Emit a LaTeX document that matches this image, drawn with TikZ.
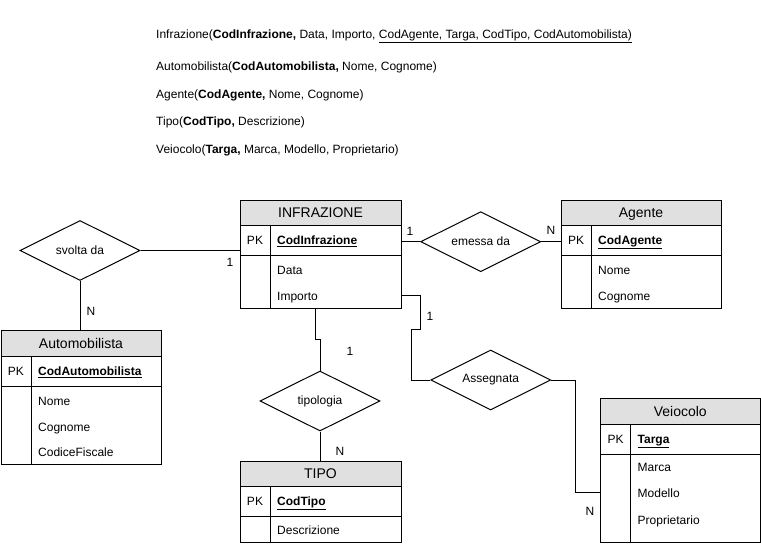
\documentclass[tikz,border=0pt]{standalone}
\usepackage{fontspec}
\setmainfont{Liberation Sans}
\usetikzlibrary{shapes.geometric,calc}

\definecolor{hdrgray}{HTML}{E0E0E0}

\tikzset{
  tabframe/.style={draw=black, line width=1pt, inner sep=0pt, outer sep=0pt, anchor=north west},
  tabtitle/.style={font=\fontsize{14}{16}\selectfont, inner sep=0pt, anchor=base, yshift=-5pt},
  field/.style={font=\fontsize{12}{14}\selectfont, anchor=base west, inner sep=0pt, yshift=-4.3pt},
  pklabel/.style={font=\fontsize{12}{14}\selectfont, inner sep=0pt, anchor=base, yshift=-4.3pt},
  relation/.style={diamond, draw=black, line width=1pt, inner sep=0pt, aspect=2,
    minimum width=120pt, minimum height=60pt, font=\fontsize{12}{14}\selectfont},
  link/.style={draw=black, line width=1pt},
  card/.style={font=\fontsize{12}{14}\selectfont, inner sep=0pt, anchor=base, yshift=-4.3pt},
  schema/.style={font=\fontsize{12}{14}\selectfont, anchor=base west, inner sep=0pt, yshift=-4.3pt},
}

% \ertable{name}{left}{top}{width}{height}{title}{key field}{header height}
\newcommand{\ertable}[8]{%
  \fill[hdrgray] (#2,#3) rectangle (#2+#4,#3+#8);
  \node[tabframe, minimum width=#4pt, minimum height=#5pt] (#1) at (#2,#3) {};
  \draw[link] (#2,#3+#8) -- (#2+#4,#3+#8);
  \draw[link] (#2,#3+#8+30) -- (#2+#4,#3+#8+30);
  \draw[link] (#2+30,#3+#8) -- (#2+30,#3+#5);
  \node[tabtitle] (#1-title) at (#2+#4/2,#3+#8/2) {#6};
  \node[pklabel] (#1-pk) at (#2+15,#3+#8+15) {PK};
  \node[field] (#1-key) at (#2+37,#3+#8+15) {\bfseries\underline{#7}};
}

\begin{document}
\begin{tikzpicture}[x=1pt, y=-1pt]
  \useasboundingbox (0,0) rectangle (761,546);

  % relational schema
  \node[schema] (s1) at (156,34.5) {Infrazione(\textbf{CodInfrazione,} Data, Importo, \underline{CodAgente, Targa, CodTipo, CodAutomobilista)}};
  \node[schema] (s2) at (156,66.5) {Automobilista(\textbf{CodAutomobilista,} Nome, Cognome)};
  \node[schema] (s3) at (156,94) {Agente(\textbf{CodAgente,} Nome, Cognome)};
  \node[schema] (s4) at (156,121.5) {Tipo(\textbf{CodTipo,} Descrizione)};
  \node[schema] (s5) at (156,149.5) {Veiocolo(\textbf{Targa,} Marca, Modello, Proprietario)};

  % entities
  \ertable{inf}{240}{200}{161}{108}{INFRAZIONE}{CodInfrazione}{25}
  \node[field] (inf-f1) at (277,270) {Data};
  \node[field] (inf-f2) at (277,296.5) {Importo};

  \ertable{aut}{1}{330}{160}{134}{Automobilista}{CodAutomobilista}{26}
  \node[field] (aut-f1) at (38,401) {Nome};
  \node[field] (aut-f2) at (38,427) {Cognome};
  \node[field] (aut-f3) at (38,452) {CodiceFiscale};

  \ertable{age}{561}{200}{160}{108}{Agente}{CodAgente}{25}
  \node[field] (age-f1) at (598,270) {Nome};
  \node[field] (age-f2) at (598,296.5) {Cognome};

  \ertable{tip}{240}{461}{161}{81}{TIPO}{CodTipo}{25}
  \node[field] (tip-f1) at (277,530) {Descrizione};

  \ertable{vei}{600.5}{398}{159.5}{144}{Veiocolo}{Targa}{26}
  \node[field] (vei-f1) at (637.5,467) {Marca};
  \node[field] (vei-f2) at (637.5,493.5) {Modello};
  \node[field] (vei-f3) at (637.5,520) {Proprietario};

  % relationships
  \node[relation] (svolta) at (80,250.5) {svolta da};
  \node[relation] (emessa) at (480.7,241.7) {emessa da};
  \node[relation] (tipologia) at (320,401) {tipologia};
  \node[relation] (assegnata) at (490.7,380) {Assegnata};

  % connectors
  \draw[link] (svolta.east) -- (svolta.east -| inf.west);
  \draw[link] (svolta.south) -- (svolta.south |- aut.north);
  \draw[link] (emessa.west) -- (emessa.west -| inf.east);
  \draw[link] (emessa.east) -- (emessa.east -| age.west);
  \coordinate (tj1) at (315.7,339);
  \draw[link] (tj1 |- inf.south) -- (tj1) -- (tj1 -| tipologia.north) -- (tipologia.north);
  \draw[link] (tipologia.south) -- (tipologia.south |- tip.north);
  \coordinate (aj1) at (420.7,295);
  \coordinate (aj2) at (411,329.3);
  \draw[link] (aj1 -| inf.east) -- (aj1) -- (aj1 |- aj2) -- (aj2) -- (aj2 |- assegnata.west) -- (assegnata.west);
  \coordinate (vj) at (575,492.7);
  \draw[link] (assegnata.east) -- (assegnata.east -| vj) -- (vj) -- (vj -| vei.west);

  % cardinalities
  \node[card] (c1) at (230,262) {1};
  \node[card] (c2) at (91,311) {N};
  \node[card] (c3) at (410,231) {1};
  \node[card] (c4) at (551,230) {N};
  \node[card] (c5) at (350,351) {1};
  \node[card] (c6) at (340,451) {N};
  \node[card] (c7) at (430,316) {1};
  \node[card] (c8) at (590,511) {N};
\end{tikzpicture}
\end{document}
